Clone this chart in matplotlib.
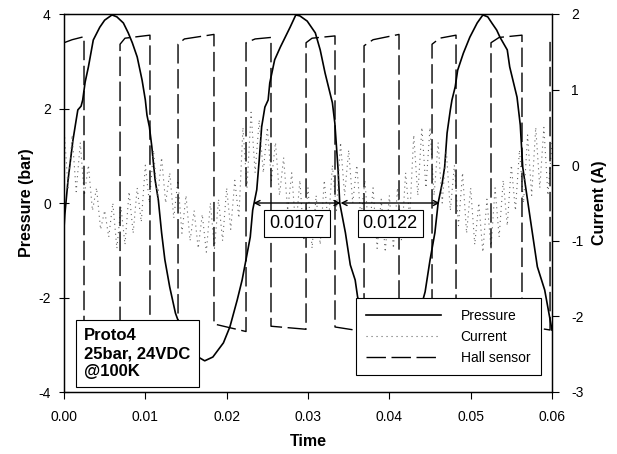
import numpy as np
import matplotlib
matplotlib.use("Agg")
import matplotlib.pyplot as plt
from matplotlib.ticker import FormatStrFormatter

plt.rcParams["font.family"] = ["Liberation Sans", "DejaVu Sans"]
plt.rcParams["axes.unicode_minus"] = False

# Pressure trace (s, bar)
pressure_time = [
    0.0000, 0.0001, 0.0005, 0.0011, 0.0015, 0.0017, 0.0021, 0.0023, 0.0026, 0.0030,
    0.0036, 0.0044, 0.0050, 0.0059, 0.0065, 0.0073, 0.0079, 0.0084, 0.0090, 0.0096,
    0.0100, 0.0102, 0.0105, 0.0108, 0.0112, 0.0116, 0.0120, 0.0124, 0.0130, 0.0137,
    0.0149, 0.0161, 0.0173, 0.0183, 0.0196, 0.0204, 0.0213, 0.0219, 0.0223, 0.0229,
    0.0232, 0.0237, 0.0240, 0.0243, 0.0247, 0.0251, 0.0253, 0.0259, 0.0266, 0.0278,
    0.0285, 0.0290, 0.0299, 0.0309, 0.0315, 0.0321, 0.0330, 0.0333, 0.0337, 0.0339,
    0.0346, 0.0352, 0.0358, 0.0361, 0.0374, 0.0386, 0.0401, 0.0416, 0.0428, 0.0438,
    0.0444, 0.0450, 0.0456, 0.0460, 0.0465, 0.0468, 0.0471, 0.0475, 0.0477, 0.0481,
    0.0484, 0.0491, 0.0499, 0.0508, 0.0515, 0.0521, 0.0526, 0.0532, 0.0536, 0.0545,
    0.0548, 0.0557, 0.0561, 0.0564, 0.0573, 0.0582, 0.0591, 0.0600,
]
pressure_bar = [
    -0.53, -0.25, 0.49, 1.33, 1.76, 1.97, 2.05, 2.18, 2.56, 2.88,
    3.45, 3.72, 3.87, 3.98, 3.94, 3.81, 3.60, 3.39, 3.09, 2.60,
    2.18, 1.86, 1.61, 1.19, 0.49, 0.06, -0.63, -1.20, -1.78, -2.33,
    -2.90, -3.22, -3.34, -3.26, -2.96, -2.62, -2.05, -1.63, -1.27, -0.72,
    -0.15, 0.28, 0.91, 1.61, 2.03, 2.18, 2.54, 3.03, 3.30, 3.72,
    3.98, 3.96, 3.85, 3.60, 3.24, 2.75, 2.12, 1.69, 0.70, 0.00,
    -0.63, -1.31, -1.63, -1.99, -2.69, -3.11, -3.32, -3.22, -2.86, -2.26,
    -1.88, -1.21, -0.63, 0.00, 0.42, 0.76, 1.48, 1.97, 2.18, 2.46,
    2.81, 3.17, 3.51, 3.81, 3.98, 3.94, 3.81, 3.66, 3.51, 3.24,
    2.88, 2.24, 1.65, 0.76, -0.30, -1.35, -1.84, -2.69,
]

# Motor current, sampled every 0.5 ms (A)
current_step = 0.0005
current_amp = [
    0.50, -0.30, 0.40, -0.35, 0.30, -0.40, 0.00, -0.60, -0.30, -0.85,
    -0.60, -0.95, -0.50, -1.10, -0.55, -1.05, -0.35, -0.90, -0.30, -0.75,
    0.00, -0.50, 0.20, -0.45, 0.10, -0.50, -0.10, -0.70, -0.20, -0.90,
    -0.40, -1.00, -0.60, -1.10, -0.65, -1.15, -0.50, -1.10, -0.45, -1.00,
    -0.30, -0.85, -0.20, -0.70, 0.50, -0.30, 0.70, -0.10, 0.60, -0.10,
    0.50, -0.20, 0.30, -0.40, 0.10, -0.60, -0.10, -0.85, -0.20, -1.00,
    -0.30, -1.10, -0.40, -1.05, -0.20, -0.80, 0.00, -0.60, 0.30, -0.40,
    0.20, -0.50, 0.00, -0.70, -0.20, -0.95, -0.30, -1.10, -0.45, -1.15,
    -0.40, -1.10, -0.30, -1.00, -0.10, -0.70, 0.40, -0.40, 0.50, -0.30,
    0.50, -0.40, 0.30, -0.50, 0.20, -0.60, 0.00, -0.80, -0.10, -0.90,
    -0.30, -1.05, -0.50, -1.15, -0.45, -1.10, -0.30, -0.95, -0.20, -0.80,
    0.00, -0.60, 0.20, -0.50, 0.40, -0.40, 0.50, -0.30, 0.50, -0.40,
    0.30,
]
current_time = np.arange(len(current_amp)) * current_step

# Hall sensor output (plotted on the current axis)
hall_time = [
    0.0000, 0.0010, 0.00246, 0.00246, 0.00689,
    0.00689, 0.0075, 0.01057, 0.01057, 0.01402,
    0.01402, 0.0148, 0.01844, 0.01844, 0.02238,
    0.02238, 0.0235, 0.02545, 0.02545, 0.02976,
    0.02976, 0.0305, 0.03332, 0.03332, 0.03689,
    0.03689, 0.0380, 0.04119, 0.04119, 0.04525,
    0.04525, 0.0462, 0.04820, 0.04820, 0.05250,
    0.05250, 0.0535, 0.05631, 0.05631, 0.05976,
    0.05976, 0.0600,
]
hall_value = [
    1.62, 1.66, 1.70, -2.12, -2.18,
    1.60, 1.68, 1.72, -2.12, -2.18,
    1.60, 1.67, 1.73, -2.10, -2.20,
    1.62, 1.67, 1.69, -2.13, -2.17,
    1.62, 1.68, 1.71, -2.14, -2.20,
    1.58, 1.66, 1.73, -2.12, -2.18,
    1.60, 1.68, 1.72, -2.14, -2.18,
    1.62, 1.69, 1.72, -2.12, -2.18,
    1.65, 1.67,
]

# Measured intervals between zero crossings of the pressure
interval_start = 0.0233
interval_values = [0.0107, 0.0122]

x_ticks = [0.00, 0.01, 0.02, 0.03, 0.04, 0.05, 0.06]
p_ticks = [-4, -2, 0, 2, 4]
i_ticks = [-3, -2, -1, 0, 1, 2]

fig = plt.figure(figsize=(6.17, 4.54), dpi=100)
ax = fig.add_axes([64 / 617, 1 - 392 / 454, 488 / 617, 378 / 454])
ax2 = ax.twinx()

line_p, = ax.plot(pressure_time, pressure_bar, color="black", lw=1.2,
                  label="Pressure")
line_c, = ax2.plot(current_time, current_amp, color="#666666", lw=0.8,
                   linestyle=(0, (1, 3.5)), label="Current")
line_h, = ax2.plot(hall_time, hall_value, color="black", lw=1.0,
                   linestyle=(0, (14, 4)), label="Hall sensor")

ax.set_xlim(0, 0.06)
ax.set_ylim(-4, 4)
ax2.set_ylim(-3, 2)
ax.set_xticks(x_ticks)
ax.set_yticks(p_ticks)
ax2.set_yticks(i_ticks)
ax.xaxis.set_major_formatter(FormatStrFormatter("%.2f"))

ax.tick_params(axis="x", direction="out", length=5, width=0.8, pad=8,
               labelsize=10)
ax.tick_params(axis="y", direction="inout", length=7, width=0.8, pad=6,
               labelsize=10)
ax2.tick_params(axis="y", direction="out", length=5, width=0.8, pad=9,
                labelsize=10)
for a in (ax, ax2):
    for s in a.spines.values():
        s.set_linewidth(0.9)
        s.set_color("black")

ax.set_xlabel("Time", fontsize=11.5, fontweight="bold", labelpad=7)
ax.set_ylabel("Pressure (bar)", fontsize=11.5, fontweight="bold", labelpad=3)
ax2.set_ylabel("Current (A)", fontsize=11.5, fontweight="bold", labelpad=6)

# Interval arrows with value boxes
starts = [interval_start, interval_start + interval_values[0]]
for x0, dt in zip(starts, interval_values):
    ax2.annotate("", xy=(x0, 0), xytext=(x0 + dt, 0),
                 xycoords=ax.transData, textcoords=ax.transData,
                 arrowprops=dict(arrowstyle="<->", color="black", lw=1.0,
                                 shrinkA=0, shrinkB=0,
                                 mutation_scale=9))
    ax2.annotate(f"{dt:.4f}", xy=(x0 + dt / 2, 0), xycoords=ax.transData,
                 xytext=(0, -15), textcoords="offset points",
                 ha="center", va="center", fontsize=13, zorder=6,
                 bbox=dict(boxstyle="square,pad=0.28", fc="white",
                           ec="black", lw=0.8))

ax2.text(0.041, 0.034, "Proto4\n25bar, 24VDC\n@100K", transform=ax.transAxes,
         ha="left", va="bottom", fontsize=12, fontweight="bold",
         linespacing=1.25, zorder=6,
         bbox=dict(boxstyle="square,pad=0.5", fc="white", ec="black", lw=0.8))

leg = ax2.legend(handles=[line_p, line_c, line_h], loc="lower right",
                 bbox_to_anchor=(0.977, 0.045), borderaxespad=0,
                 fontsize=10, handlelength=5.4, handletextpad=1.4,
                 labelspacing=0.5, fancybox=False, framealpha=1,
                 edgecolor="black", borderpad=0.75)
leg.get_frame().set_linewidth(0.8)
leg.set_zorder(7)

fig.savefig("out.png", dpi=100)
